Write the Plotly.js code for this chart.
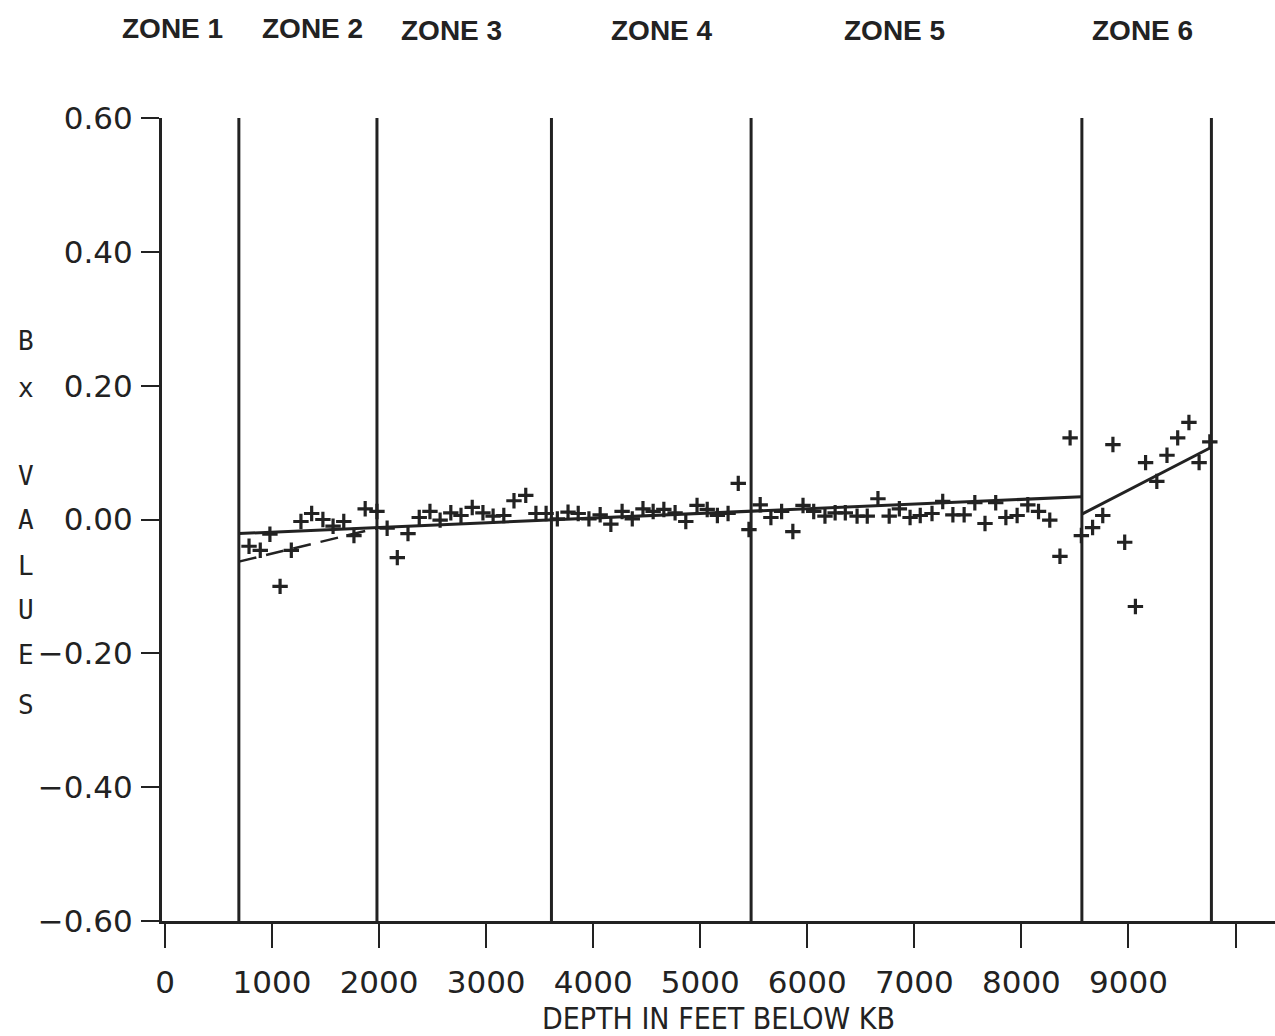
<!DOCTYPE html>
<html>
<head>
<meta charset="utf-8">
<script src="https://cdn.plot.ly/plotly-3.0.1.min.js"></script>
<style>
  html, body { margin: 0; padding: 0; background: #fff; }
  #chart { width: 1275px; height: 1036px; }
</style>
</head>
<body>
<div id="chart"></div>
<script>
// Bx values measured against depth (feet below KB), one array pair per zone
const zone2Depth = [785, 890, 980, 1075, 1180, 1270, 1370, 1475, 1570, 1670, 1765, 1870, 1980];
const zone2Bx    = [-0.040, -0.046, -0.022, -0.100, -0.046, -0.003, 0.009, 0.000, -0.010, -0.003, -0.024, 0.016, 0.012];

const zone3Depth = [2075, 2170, 2270, 2375, 2475, 2570, 2670, 2765, 2870, 2970, 3065, 3165, 3260, 3370, 3465, 3560];
const zone3Bx    = [-0.013, -0.057, -0.021, 0.003, 0.012, -0.001, 0.010, 0.006, 0.018, 0.010, 0.005, 0.006, 0.028, 0.036, 0.009, 0.009];

const zone4Depth = [3665, 3765, 3860, 3960, 4065, 4165, 4270, 4365, 4465, 4560, 4660, 4765, 4865, 4970, 5065, 5160, 5260, 5355, 5455];
const zone4Bx    = [0.001, 0.011, 0.009, 0.001, 0.007, -0.007, 0.012, 0.001, 0.016, 0.012, 0.015, 0.010, -0.003, 0.021, 0.015, 0.006, 0.009, 0.054, -0.015];

const zone5Depth = [5560, 5660, 5760, 5865, 5960, 6060, 6165, 6260, 6355, 6465, 6560, 6660, 6765, 6860, 6960, 7055, 7165, 7265, 7360, 7465, 7565, 7660, 7760, 7855, 7960, 8060, 8160, 8265, 8360, 8455];
const zone5Bx    = [0.022, 0.003, 0.012, -0.018, 0.021, 0.012, 0.005, 0.010, 0.010, 0.005, 0.005, 0.031, 0.005, 0.016, 0.003, 0.006, 0.009, 0.027, 0.007, 0.007, 0.025, -0.006, 0.025, 0.003, 0.006, 0.022, 0.012, -0.001, -0.055, 0.122];

const zone6Depth = [8560, 8665, 8760, 8855, 8965, 9065, 9160, 9265, 9360, 9460, 9565, 9660, 9760];
const zone6Bx    = [-0.024, -0.012, 0.006, 0.112, -0.034, -0.130, 0.085, 0.057, 0.096, 0.122, 0.145, 0.085, 0.116];

// Zone boundaries (feet) and zone names with their label positions (feet)
const zoneBounds = [690, 1980, 3610, 5475, 8565, 9775];
const zoneNames  = ["ZONE 1", "ZONE 2", "ZONE 3", "ZONE 4", "ZONE 5", "ZONE 6"];
const zoneLabelDepth = [70, 1380, 2675, 4640, 6810, 9130];

// Fitted trend lines: [depth start, depth end], [Bx start, Bx end]
const fitMainDepth = [690, 8565];
const fitMainBx    = [-0.021, 0.034];
const fitZone2Depth = [690, 1980];
const fitZone2Bx    = [-0.063, -0.013];
const fitZone6Depth = [8565, 9775];
const fitZone6Bx    = [0.008, 0.108];

// Axis ticks
const xTickVals = [0, 1000, 2000, 3000, 4000, 5000, 6000, 7000, 8000, 9000, 10000];
const xTickText = ["0", "1000", "2000", "3000", "4000", "5000", "6000", "7000", "8000", "9000", ""];
const yTickVals = [-0.6, -0.4, -0.2, 0.0, 0.2, 0.4, 0.6];
const yTitleLetters = ["B", "x", "V", "A", "L", "U", "E", "S"];
const yTitleRows    = [341, 388, 476, 520, 566, 610, 655, 705];

const INK = "#222222";
const L = 162, T = 118, B = 115, W = 1275 - L, H = 1036 - T - B;
const px2x = px => (px - L) / W;
const py2y = py => (1036 - B - py) / H;

const allDepth = [].concat(zone2Depth, zone3Depth, zone4Depth, zone5Depth, zone6Depth);
const allBx    = [].concat(zone2Bx, zone3Bx, zone4Bx, zone5Bx, zone6Bx);

const traces = [
  {
    x: allDepth, y: allBx, type: "scatter", mode: "markers",
    marker: { symbol: "cross-thin", size: 11, line: { width: 3.2, color: INK }, color: INK },
    hoverinfo: "x+y"
  },
  {
    x: fitMainDepth, y: fitMainBx, type: "scatter", mode: "lines",
    line: { color: INK, width: 3 }, hoverinfo: "skip"
  },
  {
    x: fitZone2Depth, y: fitZone2Bx, type: "scatter", mode: "lines",
    line: { color: INK, width: 2.5, dash: "18px,10px" }, hoverinfo: "skip"
  },
  {
    x: fitZone6Depth, y: fitZone6Bx, type: "scatter", mode: "lines",
    line: { color: INK, width: 3 }, hoverinfo: "skip"
  }
];

const shapes = zoneBounds.map(d => ({
  type: "line", xref: "x", yref: "y",
  x0: d, x1: d, y0: -0.6, y1: 0.6,
  line: { color: INK, width: 3 }
}));

const annotations = [];
zoneNames.forEach((name, i) => {
  annotations.push({
    text: "<b>" + name + "</b>", xref: "x", yref: "paper",
    x: zoneLabelDepth[i], y: py2y(28 + (i >= 2 ? 2 : 0)),
    showarrow: false, xanchor: "center", yanchor: "middle",
    font: { family: "Liberation Sans, Arial, sans-serif", size: 28, color: INK }
  });
});
yTitleLetters.forEach((ch, i) => {
  annotations.push({
    text: ch, xref: "paper", yref: "paper",
    x: px2x(26), y: py2y(yTitleRows[i]),
    showarrow: false, xanchor: "center", yanchor: "middle",
    font: { family: "DejaVu Sans Mono, monospace", size: 26, color: INK }
  });
});

const layout = {
  width: 1275, height: 1036,
  paper_bgcolor: "#ffffff", plot_bgcolor: "#ffffff",
  margin: { l: L, r: 0, t: T, b: B, pad: 0 },
  showlegend: false,
  xaxis: {
    range: [-28, 10369],
    tickmode: "array", tickvals: xTickVals, ticktext: xTickText,
    ticks: "outside", ticklen: 24, tickwidth: 2, tickcolor: INK,
    ticklabelstandoff: 8,
    showline: true, linewidth: 3, linecolor: INK,
    showgrid: false, zeroline: false,
    tickfont: { family: "DejaVu Sans, sans-serif", size: 31, color: INK },
    title: {
      text: "DEPTH IN FEET BELOW KB", standoff: 17,
      font: { family: "Liberation Sans Narrow, DejaVu Sans Condensed, sans-serif", size: 30, color: INK }
    }
  },
  yaxis: {
    range: [-0.6, 0.6],
    tickmode: "array", tickvals: yTickVals, tickformat: ".2f",
    ticks: "outside", ticklen: 18, tickwidth: 2, tickcolor: INK,
    ticklabelstandoff: 2,
    showline: true, linewidth: 3, linecolor: INK,
    showgrid: false, zeroline: false,
    tickfont: { family: "DejaVu Sans, sans-serif", size: 31, color: INK }
  },
  shapes: shapes,
  annotations: annotations
};

Plotly.newPlot("chart", traces, layout, { displayModeBar: false, staticPlot: true });
</script>
</body>
</html>
